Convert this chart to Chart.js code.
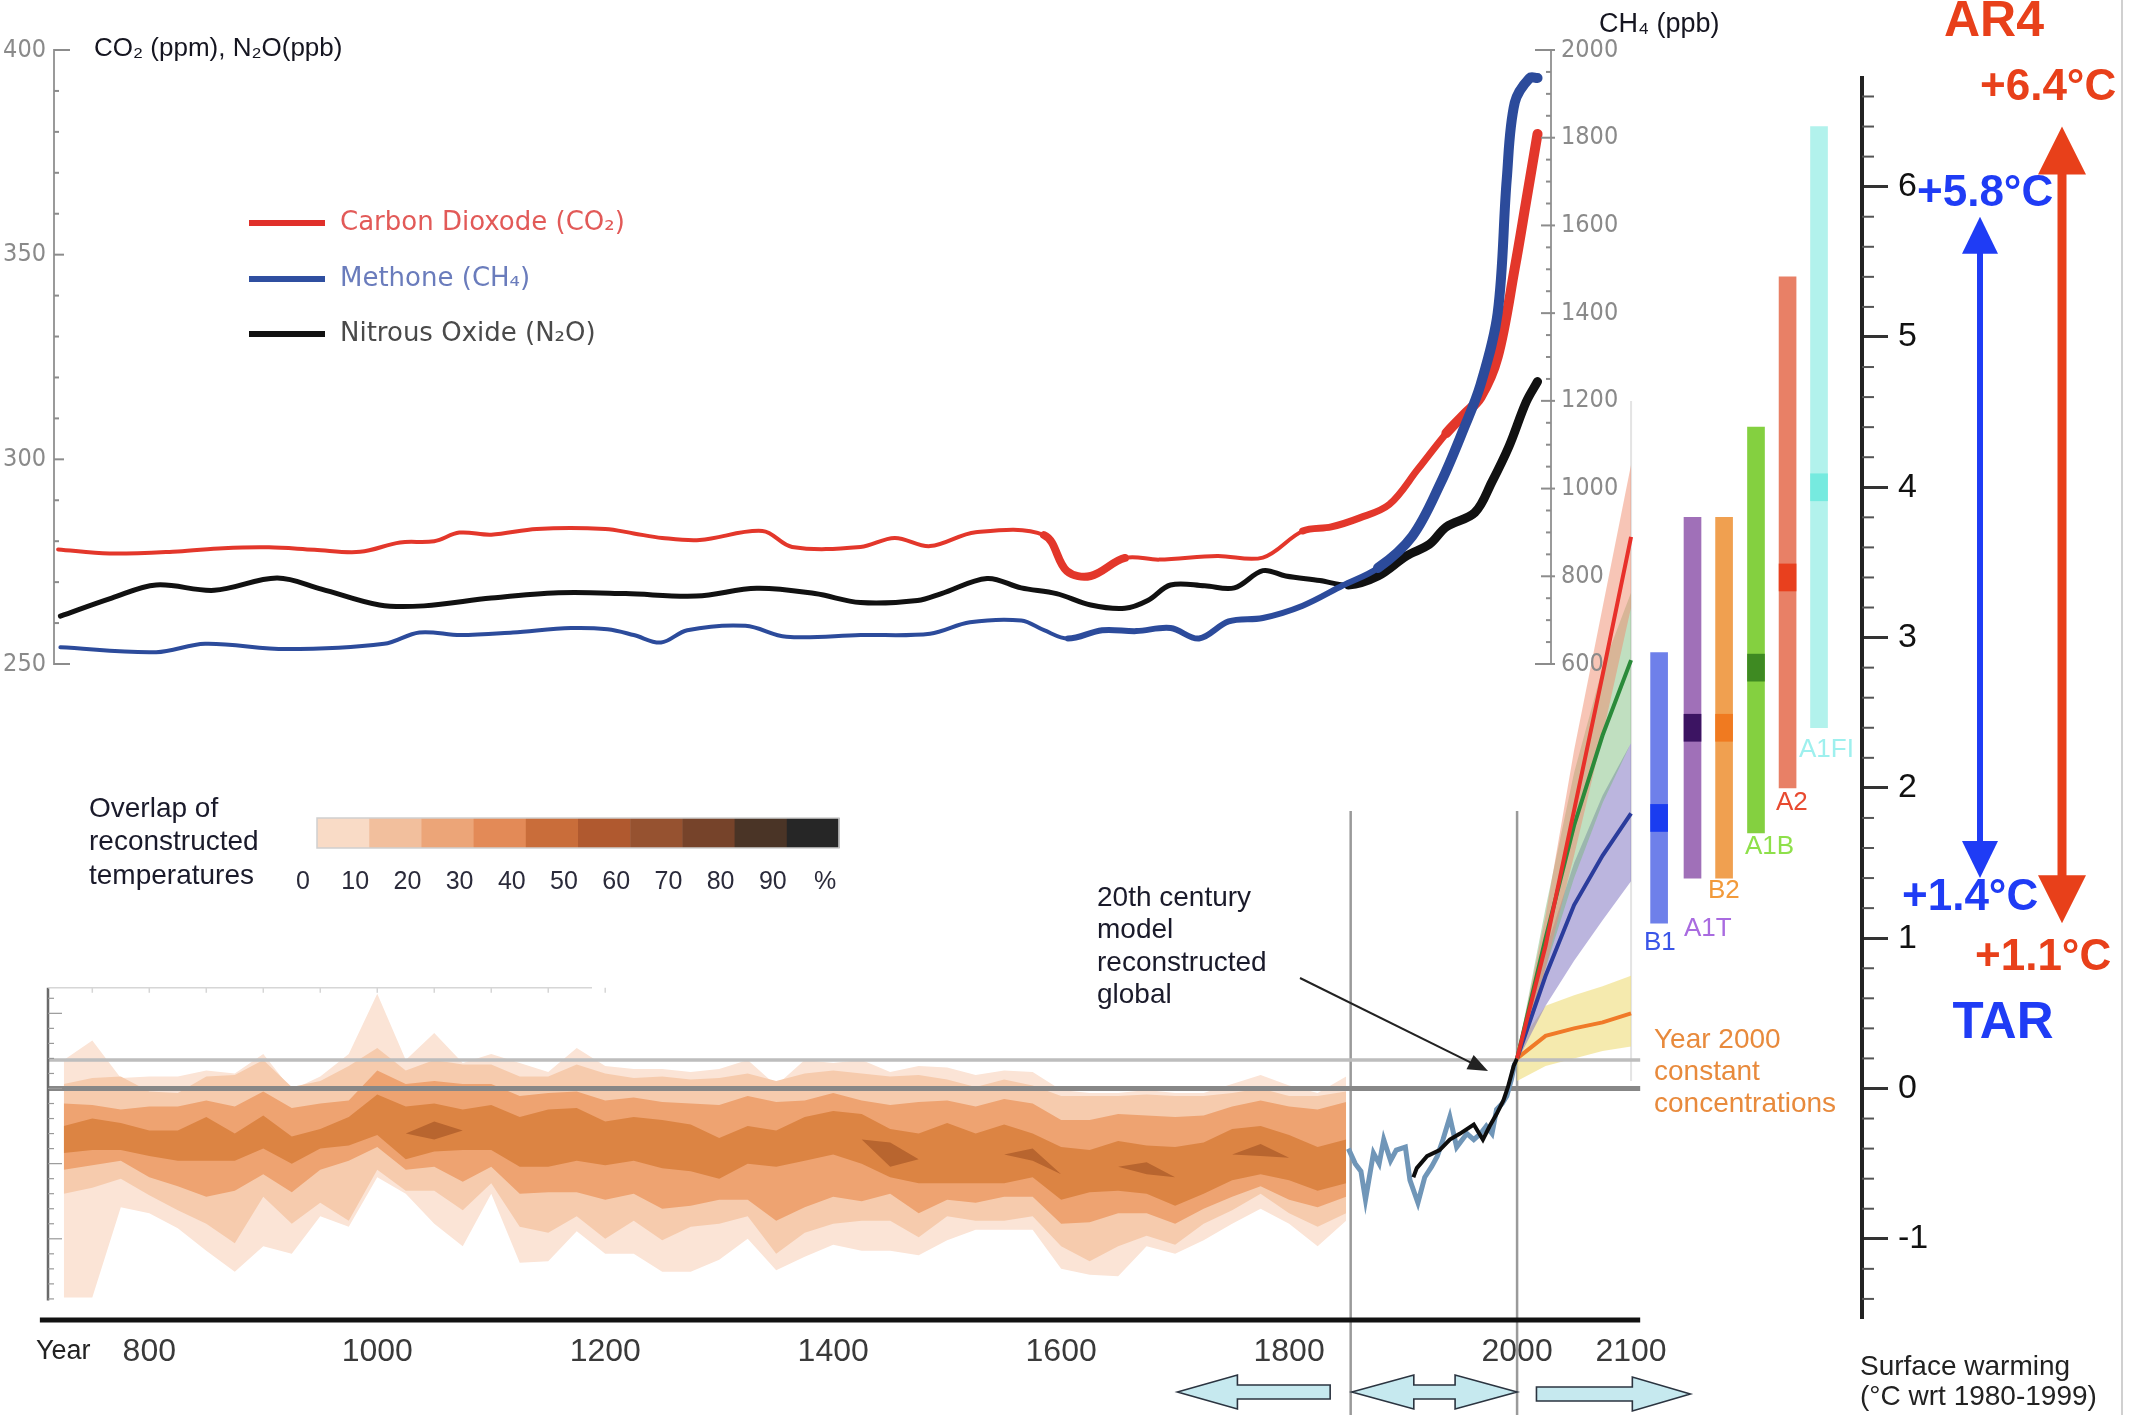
<!DOCTYPE html>
<html><head><meta charset="utf-8">
<script src="https://cdn.jsdelivr.net/npm/chart.js@4.4.1/dist/chart.umd.min.js"></script>
<style>
html,body{margin:0;padding:0;background:#fff;}
#wrap{position:relative;width:2134px;height:1415px;overflow:hidden;background:#fff;}
canvas{position:absolute;left:0;top:0;}
</style></head><body>
<div id="wrap">
<canvas id="cBottom" width="2134" height="1415"></canvas>
<canvas id="cTop" width="1800" height="720"></canvas>
</div>
<script>
// ================= DATA =================
// --- greenhouse gases (top panel) ---
const co2Years = [720,765,825,865,905,945,985,1020,1050,1072,1100,1140,1200,1225,1250,1283,1338,1364,1424,1454,1485,1525,1585,1605,1626,1656,1686,1737,1777,1812,1837,1862,1888,1913,1938,1953,1968,1983,1998,2008,2018];
const co2Vals  = [278.0,277.0,277.5,278.3,278.5,277.9,277.4,279.7,280.0,282.1,281.6,283.0,283.0,281.9,280.8,280.3,282.5,278.6,278.6,280.8,278.8,282.2,281.5,272.7,271.5,275.9,275.5,276.4,276.0,282.5,283.5,285.7,289.0,297.6,306.4,310.8,315.2,325.0,346.7,363.0,379.5];
const ch4Years = [722,806,849,920,1006,1037,1073,1119,1170,1202,1225,1249,1272,1323,1359,1424,1485,1520,1565,1585,1606,1636,1666,1696,1721,1747,1777,1812,1847,1878,1908,1933,1953,1968,1983,1991,1998,2011,2018];
const ch4Vals  = [638,627,646,634,646,672,666,672,682,679,666,649,677,687,662,666,669,695,699,677,658,677,675,682,658,697,705,733,779,819,891,1013,1135,1237,1400,1706,1880,1936,1936];
const n2oYears = [722,767,806,857,912,951,1002,1041,1100,1159,1218,1280,1333,1384,1424,1474,1495,1535,1565,1596,1626,1656,1676,1696,1726,1752,1777,1797,1827,1852,1878,1903,1923,1938,1963,1978,1993,2008,2018];
const n2oVals  = [261.7,266.1,269.3,268.0,271.0,268.3,264.4,264.2,266.1,267.4,267.2,266.6,268.5,267.2,265.0,265.5,267.2,270.9,268.6,267.2,264.4,263.6,265.5,269.3,269.1,268.6,272.8,271.5,270.4,269.3,271.5,276.4,279.2,283.5,287.0,294.5,303.2,314.0,319.0];
const gasLabels = ['Carbon Dioxode (CO\u2082)','Methone (CH\u2084)','Nitrous Oxide (N\u2082O)'];
const leftAxisTicks  = [250,260,270,280,290,300,310,320,330,340,350,360,370,380,390,400];
const rightAxisTicks = [600,650,700,750,800,850,900,950,1000,1050,1100,1150,1200,1250,1300,1350,1400,1450,1500,1550,1600,1650,1700,1750,1800,1850,1900,1950,2000];

// --- reconstructed temperatures (overlap bands, degC wrt 1980-1999) ---
const reconYears = [725,750,775,800,825,850,875,900,925,950,975,1000,1025,1050,1075,1100,1125,1150,1175,1200,1225,1250,1275,1300,1325,1350,1375,1400,1425,1450,1475,1500,1525,1550,1575,1600,1625,1650,1675,1700,1725,1750,1775,1800,1825,1850];
const rA_hi = [0.19,0.32,0.07,0.08,0.08,0.12,0.10,0.23,-0.01,0.08,0.23,0.63,0.19,0.37,0.17,0.23,0.17,0.11,0.27,0.15,0.13,0.13,0.11,0.13,0.19,0.02,0.19,0.17,0.19,0.11,0.15,0.14,0.09,0.12,0.11,-0.01,-0.03,-0.03,-0.01,-0.03,-0.03,0.03,0.09,0.02,-0.03,0.08];
const rA_lo = [-1.39,-1.39,-0.79,-0.83,-0.93,-1.08,-1.22,-1.05,-1.10,-0.85,-0.92,-0.59,-0.70,-0.90,-1.05,-0.70,-1.16,-1.15,-0.95,-1.10,-1.10,-1.22,-1.22,-1.14,-1.00,-1.21,-1.12,-1.04,-1.08,-1.08,-1.11,-1.01,-0.94,-0.94,-0.94,-1.20,-1.24,-1.25,-1.05,-1.10,-1.01,-0.90,-0.80,-0.90,-1.05,-0.88];
const rB_hi = [0.03,0.07,0.08,-0.02,-0.03,0.08,0.09,0.19,0.01,0.05,0.15,0.27,0.12,0.19,0.16,0.16,0.08,0.08,0.16,0.10,0.07,0.08,0.06,0.07,0.10,0.05,0.10,0.12,0.10,0.08,0.09,0.06,0.01,0.06,0.02,-0.05,-0.05,-0.05,-0.04,-0.05,-0.05,-0.03,0.00,-0.05,-0.05,-0.02];
const rB_lo = [-0.70,-0.66,-0.60,-0.71,-0.81,-0.90,-1.03,-0.72,-0.90,-0.76,-0.88,-0.54,-0.68,-0.68,-0.81,-0.63,-0.92,-0.96,-0.85,-1.00,-0.88,-1.01,-0.92,-0.90,-0.85,-1.10,-0.96,-0.90,-0.88,-0.88,-0.99,-0.85,-0.88,-0.88,-0.85,-1.05,-1.15,-1.05,-0.98,-1.04,-0.90,-0.81,-0.70,-0.83,-0.92,-0.83];
const rC_hi = [-0.10,-0.11,-0.14,-0.12,-0.12,-0.08,-0.12,-0.02,-0.13,-0.10,-0.08,0.12,0.03,0.05,0.03,0.03,-0.05,-0.03,-0.02,-0.08,-0.06,-0.09,-0.10,-0.11,-0.05,-0.09,-0.08,-0.03,-0.08,-0.11,-0.09,-0.08,-0.12,-0.07,-0.10,-0.21,-0.21,-0.17,-0.18,-0.19,-0.18,-0.12,-0.08,-0.12,-0.14,-0.09];
const rC_lo = [-0.54,-0.51,-0.48,-0.59,-0.65,-0.72,-0.68,-0.57,-0.69,-0.54,-0.48,-0.39,-0.54,-0.52,-0.62,-0.52,-0.70,-0.69,-0.69,-0.74,-0.70,-0.80,-0.78,-0.74,-0.74,-0.88,-0.79,-0.72,-0.75,-0.70,-0.83,-0.74,-0.76,-0.72,-0.72,-0.90,-0.89,-0.83,-0.83,-0.90,-0.80,-0.72,-0.65,-0.74,-0.79,-0.72];
const rD_hi = [-0.25,-0.20,-0.23,-0.28,-0.28,-0.19,-0.30,-0.18,-0.32,-0.27,-0.19,-0.04,-0.12,-0.10,-0.14,-0.11,-0.19,-0.14,-0.13,-0.22,-0.19,-0.21,-0.24,-0.33,-0.25,-0.28,-0.19,-0.15,-0.17,-0.27,-0.30,-0.23,-0.30,-0.24,-0.30,-0.39,-0.41,-0.35,-0.38,-0.39,-0.36,-0.27,-0.25,-0.31,-0.39,-0.34];
const rD_lo = [-0.43,-0.41,-0.41,-0.45,-0.48,-0.48,-0.48,-0.40,-0.50,-0.40,-0.38,-0.31,-0.47,-0.42,-0.41,-0.41,-0.52,-0.52,-0.48,-0.51,-0.48,-0.53,-0.55,-0.60,-0.50,-0.52,-0.48,-0.44,-0.50,-0.59,-0.63,-0.63,-0.63,-0.63,-0.59,-0.74,-0.69,-0.68,-0.70,-0.78,-0.70,-0.61,-0.57,-0.61,-0.68,-0.63];
const rE_hi = [-0.34,-0.31,-0.32,-0.37,-0.38,-0.34,-0.39,-0.29,-0.41,-0.34,-0.29,-0.18,-0.30,-0.22,-0.28,-0.26,-0.36,-0.33,-0.31,-0.37,-0.34,-0.37,-0.40,-0.47,-0.38,-0.40,-0.34,-0.30,-0.34,-0.36,-0.47,-0.43,-0.47,-0.44,-0.40,-0.57,-0.55,-0.52,-0.49,-0.59,-0.53,-0.44,-0.37,-0.46,-0.54,-0.49];
const rE_lo = [-0.34,-0.31,-0.32,-0.37,-0.38,-0.34,-0.39,-0.29,-0.41,-0.34,-0.29,-0.18,-0.30,-0.34,-0.28,-0.26,-0.36,-0.33,-0.31,-0.37,-0.34,-0.37,-0.40,-0.47,-0.38,-0.40,-0.34,-0.30,-0.34,-0.52,-0.47,-0.43,-0.47,-0.44,-0.48,-0.57,-0.55,-0.52,-0.57,-0.59,-0.53,-0.44,-0.45,-0.46,-0.54,-0.49];

// --- instrumental & 20th century model ---
const obsYears = [1852,1858,1863,1867,1874,1879,1883,1889,1894,1902,1906,1913,1919,1925,1930,1935,1941,1947,1956,1962,1968,1973,1978,1982,1987,1991,1995,1998];
const obsVals  = [-0.40,-0.50,-0.55,-0.74,-0.43,-0.50,-0.34,-0.48,-0.41,-0.39,-0.61,-0.76,-0.59,-0.52,-0.45,-0.34,-0.19,-0.39,-0.30,-0.34,-0.30,-0.25,-0.30,-0.14,-0.10,-0.05,0.06,0.17];
const modelYears = [1909,1912,1921,1932,1941,1950,1962,1970,1976,1982,1988,1992,1997,2000];
const modelVals  = [-0.59,-0.53,-0.45,-0.41,-0.34,-0.30,-0.24,-0.34,-0.25,-0.17,-0.08,0.01,0.15,0.20];

// --- projections 2000-2100 ---
const projYears = [2000,2025,2050,2075,2100];
const a2Mean  = [0.20,0.95,1.85,2.75,3.67], a2Hi  = [0.22,1.15,2.25,3.20,4.15], a2Lo  = [0.18,0.80,1.55,2.35,3.20];
const a1bMean = [0.20,1.00,1.75,2.35,2.85], a1bHi = [0.22,1.20,2.10,2.80,3.30], a1bLo = [0.18,0.80,1.40,1.90,2.30];
const b1Mean  = [0.20,0.75,1.22,1.55,1.83], b1Hi  = [0.22,0.92,1.50,1.95,2.30], b1Lo  = [0.18,0.55,0.85,1.12,1.38];
const cstMean = [0.20,0.35,0.40,0.44,0.50], cstHi = [0.28,0.55,0.62,0.68,0.75], cstLo = [0.05,0.15,0.20,0.25,0.28];

// --- scenario likely ranges at 2090-2099 ---
const scenNames = ['B1','A1T','B2','A1B','A2','A1FI'];
const scenSlot  = [2124.6,2153.9,2181.6,2209.6,2237.3,2264.9];
const scenLow   = [1.1,1.4,1.4,1.7,2.0,2.4];
const scenHigh  = [2.9,3.8,3.8,4.4,5.4,6.4];
const scenBest  = [1.8,2.4,2.4,2.8,3.4,4.0];
const tarRange = [1.4,5.8];
const ar4Range = [1.1,6.4];
const refLevels = [0, 0.19];
const refSpan = [711, 2108];
const yearTicks = [800,1000,1200,1400,1600,1800,2000,2100];
const tempTicks = [-1,0,1,2,3,4,5,6];
const overlapLabels = ['0','10','20','30','40','50','60','70','80','90','%'];
const periodSpans = [[1702,1836],[1855,2000],[2017,2152]];

// ================= STYLE =================
const SANS = "'Liberation Sans', Arial, Helvetica, sans-serif";
const NARROW = "'Liberation Sans Narrow', 'DejaVu Sans Condensed', 'Liberation Sans', sans-serif";
const overlapColors = ['#f9dbc6','#f2bf9d','#eca578','#e38a57','#c96d3a','#b0592f','#965230','#76432a','#4a3426','#262626'];
const scenColors  = ['#6e80ea','#a070b8','#f0a050','#84d040','#e88066','#b2f2ec'];
const scenMarkers = ['#1a3cf0','#3c1462','#f07a20','#3e8a22','#e8401e','#76eadf'];
const scenText    = ['#3a55e8','#a96be0','#f29a3a','#8ee04a','#e84a30','#9ef0ee'];
const RED = '#e8401a', BLUE = '#1f3cf5';

const pts = (xs, ys) => xs.map((x, i) => ({x, y: ys[i]}));
Chart.defaults.font.family = SANS;

function band(xs, lo, hi, color, order) {
  return [
    {type:'line', data: pts(xs, lo), borderColor:'rgba(0,0,0,0)', borderWidth:0, pointRadius:0, fill:false, order, tension:0},
    {type:'line', data: pts(xs, hi), borderColor:'rgba(0,0,0,0)', borderWidth:0, pointRadius:0, fill:'-1', backgroundColor:color, order, tension:0}
  ];
}
function lineDs(xs, ys, color, width, order, extra) {
  return Object.assign({type:'line', data: pts(xs, ys), borderColor: color, borderWidth: width, pointRadius:0, fill:false, order, tension:0}, extra || {});
}

// ================= BOTTOM / TEMPERATURE CHART =================
function text(ctx, s, x, y, font, color, align) {
  ctx.font = font; ctx.fillStyle = color; ctx.textAlign = align || 'left'; ctx.textBaseline = 'middle';
  ctx.fillText(s, x, y);
}
function hArrow(ctx, xTip, xEnd, yc, headL, hs, hh) {
  const d = xTip < xEnd ? 1 : -1;
  const xb = xTip + d * headL;
  ctx.beginPath();
  ctx.moveTo(xTip, yc); ctx.lineTo(xb, yc - hh); ctx.lineTo(xb, yc - hs); ctx.lineTo(xEnd, yc - hs);
  ctx.lineTo(xEnd, yc + hs); ctx.lineTo(xb, yc + hs); ctx.lineTo(xb, yc + hh); ctx.closePath();
  ctx.fill(); ctx.stroke();
}
function dArrow(ctx, x1, x2, yc, headL, hs, hh) {
  ctx.beginPath();
  ctx.moveTo(x1, yc); ctx.lineTo(x1 + headL, yc - hh); ctx.lineTo(x1 + headL, yc - hs); ctx.lineTo(x2 - headL, yc - hs);
  ctx.lineTo(x2 - headL, yc - hh); ctx.lineTo(x2, yc); ctx.lineTo(x2 - headL, yc + hh); ctx.lineTo(x2 - headL, yc + hs);
  ctx.lineTo(x1 + headL, yc + hs); ctx.lineTo(x1 + headL, yc + hh); ctx.closePath();
  ctx.fill(); ctx.stroke();
}
function vArrow(ctx, x, yTop, yBot, shaftW, headL, headHW, color) {
  ctx.fillStyle = color;
  ctx.fillRect(x - shaftW / 2, yTop + headL - 2, shaftW, (yBot - yTop) - 2 * headL + 4);
  ctx.beginPath(); ctx.moveTo(x, yTop); ctx.lineTo(x - headHW, yTop + headL); ctx.lineTo(x + headHW, yTop + headL); ctx.closePath(); ctx.fill();
  ctx.beginPath(); ctx.moveTo(x, yBot); ctx.lineTo(x - headHW, yBot - headL); ctx.lineTo(x + headHW, yBot - headL); ctx.closePath(); ctx.fill();
}

const bottomDecor = {
  id: 'bottomDecor',
  beforeDatasetsDraw(chart) {
    const ctx = chart.ctx, xs = chart.scales.x, ys = chart.scales.y;
    const X = v => xs.getPixelForValue(v), Y = v => ys.getPixelForValue(v);
    ctx.save();
    ctx.strokeStyle = '#9a9a9a'; ctx.lineWidth = 2.5;
    [1854, 2000].forEach(yr => { ctx.beginPath(); ctx.moveTo(X(yr), 811); ctx.lineTo(X(yr), 1415); ctx.stroke(); });
    ctx.strokeStyle = '#e4e4e4'; ctx.lineWidth = 2;
    ctx.beginPath(); ctx.moveTo(X(2100), 401); ctx.lineTo(X(2100), Y(0.05)); ctx.stroke();
    ctx.restore();
  },
  afterDraw(chart) {
    const ctx = chart.ctx, xs = chart.scales.x, ys = chart.scales.y, ca = chart.chartArea;
    const X = v => xs.getPixelForValue(v), Y = v => ys.getPixelForValue(v);
    ctx.save();
    ctx.strokeStyle = '#555'; ctx.lineWidth = 2;
    for (let k = -7; k <= 33; k++) {
      if (k % 5 === 0) continue;
      const y = Y(k * 0.2);
      ctx.beginPath(); ctx.moveTo(ca.right, y); ctx.lineTo(ca.right + 12, y); ctx.stroke();
    }
    ctx.strokeStyle = '#6a6a6a'; ctx.lineWidth = 2.5;
    ctx.beginPath(); ctx.moveTo(48, Y(0.67)); ctx.lineTo(48, Y(-1.41)); ctx.stroke();
    ctx.lineWidth = 1.2; ctx.strokeStyle = '#999';
    for (let k = -14; k <= 6; k++) { const y = Y(k * 0.1); ctx.beginPath(); ctx.moveTo(48, y); ctx.lineTo(k % 5 === 0 ? 62 : 54, y); ctx.stroke(); }
    ctx.strokeStyle = '#d6d6d6'; ctx.lineWidth = 1.5;
    ctx.beginPath(); ctx.moveTo(48, Y(0.67)); ctx.lineTo(592, Y(0.67)); ctx.stroke();
    for (let yr = 750; yr <= 1200; yr += 50) { ctx.beginPath(); ctx.moveTo(X(yr), Y(0.67)); ctx.lineTo(X(yr), Y(0.67) + 5); ctx.stroke(); }
    ctx.strokeStyle = '#111'; ctx.lineWidth = 5;
    ctx.beginPath(); ctx.moveTo(X(704), ca.bottom + 2); ctx.lineTo(X(2108), ca.bottom + 2); ctx.stroke();
    ctx.fillStyle = '#c6e9ef'; ctx.strokeStyle = '#2b3440'; ctx.lineWidth = 1.6;
    hArrow(ctx, X(periodSpans[0][0]), X(periodSpans[0][1]), 1392, 60, 7, 17);
    dArrow(ctx, X(periodSpans[1][0]), X(periodSpans[1][1]), 1392, 62, 7, 17);
    hArrow(ctx, X(periodSpans[2][1]), X(periodSpans[2][0]), 1394, 58, 7, 17);
    text(ctx, 'Year', 36, 1352, '27px ' + SANS, '#222');
    text(ctx, 'Surface warming', 1860, 1367, '28px ' + SANS, '#222');
    text(ctx, '(\u00B0C wrt 1980-1999)', 1860, 1397, '28px ' + SANS, '#222');
    ['Overlap of', 'reconstructed', 'temperatures'].forEach((s, i) => text(ctx, s, 89, 809 + i * 33.5, '28px ' + SANS, '#1a1a2a'));
    const bx0 = 317, bw = 52.2;
    overlapColors.forEach((c, i) => { ctx.fillStyle = c; ctx.fillRect(bx0 + i * bw, 818, bw + 0.5, 30); });
    ctx.strokeStyle = '#cfcfcf'; ctx.lineWidth = 1.5; ctx.strokeRect(bx0, 818, bw * 10, 30);
    overlapLabels.forEach((s, i) => text(ctx, s, bx0 + i * bw - 14, 882, '25px ' + SANS, '#2a2a3a', 'center'));
    ['20th century', 'model', 'reconstructed', 'global'].forEach((s, i) => text(ctx, s, 1097, 898 + i * 32.5, '28px ' + SANS, '#1a1a2a'));
    ctx.strokeStyle = '#222'; ctx.lineWidth = 2; ctx.fillStyle = '#222';
    const ax0 = 1300, ay0 = 978, ax1 = 1488, ay1 = 1071;
    const ang = Math.atan2(ay1 - ay0, ax1 - ax0);
    ctx.beginPath(); ctx.moveTo(ax0, ay0); ctx.lineTo(ax1 - 14 * Math.cos(ang), ay1 - 14 * Math.sin(ang)); ctx.stroke();
    ctx.beginPath(); ctx.moveTo(ax1, ay1);
    ctx.lineTo(ax1 - 20 * Math.cos(ang) + 8 * Math.sin(ang), ay1 - 20 * Math.sin(ang) - 8 * Math.cos(ang));
    ctx.lineTo(ax1 - 20 * Math.cos(ang) - 8 * Math.sin(ang), ay1 - 20 * Math.sin(ang) + 8 * Math.cos(ang));
    ctx.closePath(); ctx.fill();
    ['Year 2000', 'constant', 'concentrations'].forEach((s, i) => text(ctx, s, 1654, 1040 + i * 32, '28px ' + SANS, '#e88a3c'));
    const slx = [1644, 1684, 1708, 1745, 1776, 1799], sly = [943, 929, 891, 847, 803, 750];
    scenNames.forEach((s, i) => text(ctx, s, slx[i], sly[i], '26px ' + SANS, scenText[i]));
    vArrow(ctx, 1980, Y(tarRange[1]), Y(tarRange[0]), 6, 37, 18, BLUE);
    vArrow(ctx, 2062, Y(ar4Range[1]), Y(ar4Range[0]), 9, 48, 24, RED);
    text(ctx, 'AR4', 1994, 22, 'bold 50px ' + SANS, RED, 'center');
    text(ctx, '+' + ar4Range[1].toFixed(1) + '\u00B0C', 1980, 88, 'bold 44px ' + SANS, RED);
    text(ctx, '+' + tarRange[1].toFixed(1) + '\u00B0C', 1917, 194, 'bold 44px ' + SANS, BLUE);
    text(ctx, '+' + tarRange[0].toFixed(1) + '\u00B0C', 1902, 898, 'bold 44px ' + SANS, BLUE);
    text(ctx, '+' + ar4Range[0].toFixed(1) + '\u00B0C', 1975, 958, 'bold 44px ' + SANS, RED);
    text(ctx, 'TAR', 2003, 1024, 'bold 51px ' + SANS, BLUE, 'center');
    ctx.strokeStyle = '#d0d0d0'; ctx.lineWidth = 2;
    ctx.beginPath(); ctx.moveTo(2122, 0); ctx.lineTo(2122, 1415); ctx.stroke();
    ctx.restore();
  }
};

const bottomDatasets = [].concat(
  band(reconYears, rA_lo, rA_hi, '#fbe4d6', 100),
  band(reconYears, rB_lo, rB_hi, '#f6cbad', 90),
  band(reconYears, rC_lo, rC_hi, '#eea371', 80),
  band(reconYears, rD_lo, rD_hi, '#dc8443', 70),
  band(reconYears, rE_lo, rE_hi, '#b8652f', 60),
  band(projYears, cstLo, cstHi, 'rgba(240,222,130,0.65)', 45),
  band(projYears, b1Lo, b1Hi, 'rgba(120,108,190,0.50)', 44),
  band(projYears, a1bLo, a1bHi, 'rgba(115,185,115,0.45)', 43),
  band(projYears, a2Lo, a2Hi, 'rgba(240,140,110,0.50)', 42),
  [
    lineDs(refSpan, [refLevels[0], refLevels[0]], '#878787', 5, 20),
    lineDs(refSpan, [refLevels[1], refLevels[1]], '#bdbdbd', 3.5, 21),
    lineDs(obsYears, obsVals, '#7096b8', 5, 12),
    lineDs(modelYears, modelVals, '#0d0d0d', 4, 11),
    lineDs(projYears, cstMean, '#f07a28', 4, 10),
    lineDs(projYears, b1Mean, '#2b3c9c', 4, 9),
    lineDs(projYears, a1bMean, '#2a8a3a', 4, 8),
    lineDs(projYears, a2Mean, '#e8302a', 4, 7),
    {type:'bar', data: scenSlot.map((x, i) => ({x, y: [scenLow[i], scenHigh[i]]})), backgroundColor: scenColors,
     barThickness: 17, grouped: false, borderWidth: 0, borderSkipped: false, order: 5},
    {type:'bar', data: scenSlot.map((x, i) => ({x, y: [scenBest[i] - 0.09, scenBest[i] + 0.09]})), backgroundColor: scenMarkers,
     barThickness: 17, grouped: false, borderWidth: 0, borderSkipped: false, order: 4}
  ]
);

new Chart(document.getElementById('cBottom'), {
  type: 'line',
  data: { datasets: bottomDatasets },
  plugins: [bottomDecor],
  options: {
    responsive: false, animation: false, devicePixelRatio: 1, events: [],
    layout: { padding: { left: 45, top: 78, right: 0, bottom: 0 } },
    elements: { point: { radius: 0 } },
    plugins: { legend: { display: false }, tooltip: { enabled: false } },
    scales: {
      x: {
        type: 'linear', min: 708.5, max: 2302.6, bounds: 'data', offset: false,
        afterBuildTicks: s => { s.ticks = yearTicks.map(v => ({ value: v })); },
        afterFit: s => { s.height = 97; },
        grid: { display: false, drawTicks: false }, border: { display: false },
        ticks: { autoSkip: false, maxRotation: 0, padding: 15, color: '#3a3a3a', font: { size: 32, family: SANS }, callback: v => String(v) }
      },
      y: {
        type: 'linear', position: 'right', min: -1.527, max: 6.723, bounds: 'data',
        afterBuildTicks: s => { s.ticks = tempTicks.map(v => ({ value: v })); },
        afterFit: s => { s.width = 272; },
        grid: { display: true, drawOnChartArea: false, drawTicks: true, tickLength: 26, tickWidth: 3, tickColor: '#333' },
        border: { display: true, color: '#222', width: 4 },
        ticks: { autoSkip: false, padding: 10, color: '#111', font: { size: 34, family: SANS }, callback: v => String(v) }
      }
    }
  }
});

// ================= TOP / GREENHOUSE GAS CHART =================
const topDecor = {
  id: 'topDecor',
  afterDraw(chart) {
    const ctx = chart.ctx, ya = chart.scales.y, yb = chart.scales.y2, ca = chart.chartArea;
    ctx.save();
    ctx.strokeStyle = '#8c8c8c'; ctx.lineWidth = 2;
    leftAxisTicks.forEach((v, i) => {
      const y = ya.getPixelForValue(v);
      const len = (i === 0 || i === leftAxisTicks.length - 1) ? 16 : (v % 50 === 0 ? 10 : 5);
      ctx.beginPath(); ctx.moveTo(ca.left, y); ctx.lineTo(ca.left + len, y); ctx.stroke();
    });
    rightAxisTicks.forEach((v, i) => {
      const y = yb.getPixelForValue(v);
      const major = v % 200 === 0;
      const len = (i === 0 || i === rightAxisTicks.length - 1) ? 16 : (major ? 10 : 5);
      ctx.beginPath(); ctx.moveTo(ca.right - len, y); ctx.lineTo(ca.right + (major ? 4 : 0), y); ctx.stroke();
    });
    text(ctx, 'CO\u2082 (ppm), N\u2082O(ppb)', 94, 49, '26px ' + SANS, '#151520');
    text(ctx, 'CH\u2084 (ppb)', 1599, 25, '27px ' + SANS, '#151520');
    const items = [
      { label: gasLabels[0], line: '#e0302a', txt: '#e25a58', y: 223 },
      { label: gasLabels[1], line: '#2f4fa0', txt: '#6a7cbc', y: 279 },
      { label: gasLabels[2], line: '#111111', txt: '#4a4a4a', y: 334 }
    ];
    items.forEach(it => {
      ctx.strokeStyle = it.line; ctx.lineWidth = 6; ctx.lineCap = 'butt';
      ctx.beginPath(); ctx.moveTo(249, it.y); ctx.lineTo(325, it.y); ctx.stroke();
      text(ctx, it.label, 340, it.y, '26px ' + "'DejaVu Sans', sans-serif", it.txt);
    });
    ctx.restore();
  }
};

new Chart(document.getElementById('cTop'), {
  type: 'line',
  data: { datasets: [
    { label: gasLabels[1], data: pts(ch4Years, ch4Vals), yAxisID: 'y2', borderColor: '#2c4b9b', order: 1,
      segment: { borderWidth: c => c.p0.parsed.x >= 1850 ? 10 : (c.p0.parsed.x >= 1590 ? 6 : 4) } },
    { label: gasLabels[0], data: pts(co2Years, co2Vals), yAxisID: 'y', borderColor: '#e3372b', order: 2,
      segment: { borderWidth: c => c.p0.parsed.x >= 1930 ? 10 : (c.p0.parsed.x >= 1800 ? 7 : ((c.p0.parsed.x >= 1585 && c.p0.parsed.x < 1640) ? 8 : 4)) } },
    { label: gasLabels[2], data: pts(n2oYears, n2oVals), yAxisID: 'y', borderColor: '#111111', order: 3,
      segment: { borderWidth: c => c.p0.parsed.x >= 1840 ? 9 : 5 } }
  ] },
  plugins: [topDecor],
  options: {
    responsive: false, animation: false, devicePixelRatio: 1, events: [],
    layout: { padding: { left: 0, right: 0, top: 50, bottom: 56 } },
    elements: { point: { radius: 0 }, line: { tension: 0.35, borderCapStyle: 'round', borderJoinStyle: 'round', fill: false } },
    plugins: { legend: { display: false }, tooltip: { enabled: false } },
    scales: {
      x: { type: 'linear', display: false, min: 716.4, max: 2029.8, bounds: 'data' },
      y: {
        type: 'linear', position: 'left', min: 250, max: 400, bounds: 'data',
        afterBuildTicks: s => { s.ticks = leftAxisTicks.map(v => ({ value: v })); },
        afterFit: s => { s.width = 54; },
        grid: { display: true, drawOnChartArea: false, drawTicks: false },
        border: { display: true, color: '#9a9a9a', width: 2 },
        ticks: { autoSkip: false, padding: 8, color: '#8a8a8a', font: { size: 25, family: NARROW }, callback: v => (v % 50 === 0 ? String(v) : '') }
      },
      y2: {
        type: 'linear', position: 'right', min: 600, max: 2000, bounds: 'data',
        afterBuildTicks: s => { s.ticks = rightAxisTicks.map(v => ({ value: v })); },
        afterFit: s => { s.width = 249; },
        grid: { display: true, drawOnChartArea: false, drawTicks: false },
        border: { display: true, color: '#9a9a9a', width: 2 },
        ticks: { autoSkip: false, padding: 10, color: '#8a8a8a', font: { size: 25, family: NARROW }, callback: v => (v % 200 === 0 ? String(v) : '') }
      }
    }
  }
});
</script>
</body></html>
